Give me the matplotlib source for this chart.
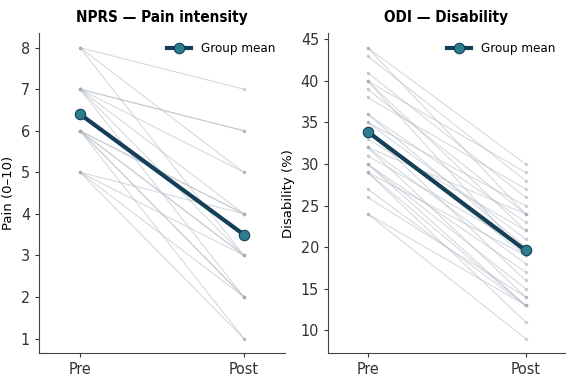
import matplotlib
matplotlib.use("Agg")
import matplotlib.pyplot as plt
import numpy as np

# NPRS (0-10) pre / post per participant
nprs_pre = [8, 8, 8, 7, 7, 7, 7, 7, 7, 6, 6, 6, 6, 6, 6, 6, 5, 5, 5, 5]
nprs_post = [7, 5, 3, 6, 6, 5, 4, 3, 2, 4, 4, 3, 3, 2, 2, 1, 4, 3, 2, 1]

# ODI (%) pre / post per participant
odi_pre = [44, 44, 43, 41, 40, 40, 40, 39, 38, 36, 36, 35, 35, 34, 34,
           33, 32, 32, 32, 31, 30, 30, 30, 29, 29, 29, 27, 26, 24, 24]
odi_post = [30, 24, 28, 26, 29, 22, 19, 24, 27, 23, 20, 25, 21, 19, 16,
            22, 24, 18, 14, 20, 17, 15, 13, 19, 13, 11, 13, 14, 13, 9]

phases = ["Pre", "Post"]

indiv_color = "#b4bcc5"
mean_line = "#143f58"
mean_face = "#2b7d8f"

narrow = ["DejaVu Sans Condensed", "Liberation Sans Narrow", "DejaVu Sans"]
plt.rcParams["font.family"] = narrow
plt.rcParams["font.stretch"] = "condensed"

fig = plt.figure(figsize=(5.69, 3.76), dpi=100)
ax1 = fig.add_axes([0.0685, 0.061, 0.432, 0.851])
ax2 = fig.add_axes([0.5765, 0.061, 0.4165, 0.851])


def panel(ax, pre, post, title, ylabel, ticks):
    x = np.arange(len(phases))
    for a, b in zip(pre, post):
        ax.plot(x, [a, b], color=indiv_color, alpha=0.55, lw=0.8,
                marker="o", ms=2.5, mfc="#a3abb3", mec="none")
    ax.plot(x, [np.mean(pre), np.mean(post)], color=mean_line, lw=3,
            marker="o", ms=7.5, mfc=mean_face, mec=mean_line, mew=0.8,
            label="Group mean", zorder=5)
    ax.set_xlim(-0.25, 1.25)
    ax.set_xticks(x)
    ax.set_xticklabels(phases)
    ax.set_yticks(ticks)
    ax.tick_params(labelsize=11.5, colors="#333333", length=3)
    ax.set_title(title, fontsize=11, fontweight="bold", pad=8,
                 family="DejaVu Sans", fontstretch="condensed")
    ax.set_ylabel(ylabel, fontsize=9.5, labelpad=4, family="DejaVu Sans",
                  fontstretch="normal")
    ax.spines["top"].set_visible(False)
    ax.spines["right"].set_visible(False)
    for s in ("left", "bottom"):
        ax.spines[s].set_color("#444444")
        ax.spines[s].set_linewidth(0.8)
    ax.legend(loc="upper right", frameon=False, handlelength=1.8,
              borderaxespad=0.3, prop=dict(size=9.5, family=narrow))


panel(ax1, nprs_pre, nprs_post, "NPRS — Pain intensity", "Pain (0–10)",
      range(1, 9))
panel(ax2, odi_pre, odi_post, "ODI — Disability", "Disability (%)",
      range(10, 46, 5))

fig.savefig("out.png", dpi=100)
